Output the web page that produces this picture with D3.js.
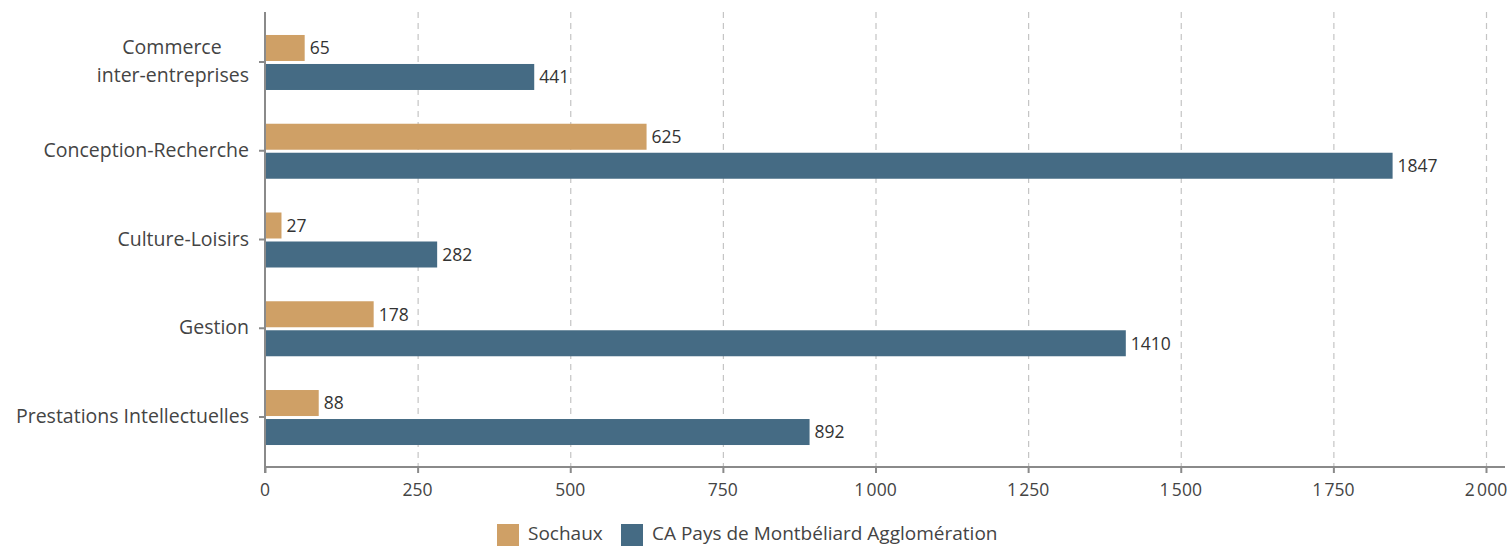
<!DOCTYPE html>
<html>
<head>
<meta charset="utf-8">
<script src="https://cdn.jsdelivr.net/npm/d3@7"></script>
<style>
  html, body { margin: 0; padding: 0; background: #fff; }
  svg { display: block; font-family: "Open Sans", "Noto Sans", sans-serif; }
</style>
</head>
<body>
<svg id="chart" width="1510" height="547"></svg>
<script>
// Emplois par fonction : Sochaux vs CA Pays de Montbéliard Agglomération
const categories = [
  ["Commerce", "inter-entreprises"],
  ["Conception-Recherche"],
  ["Culture-Loisirs"],
  ["Gestion"],
  ["Prestations Intellectuelles"]
];
const seriesNames = ["Sochaux", "CA Pays de Montbéliard Agglomération"];
const sochaux = [65, 625, 27, 178, 88];
const capma = [441, 1847, 282, 1410, 892];
const xTicks = [0, 250, 500, 750, 1000, 1250, 1500, 1750, 2000];
const colors = ["#cfa066", "#456b84"];

const svg = d3.select("#chart");
const plotLeft = 265, plotRight = 1486, plotTop = 12, plotBottom = 467;

const fr = d3.formatLocale({ decimal: ",", thousands: "\u202f", grouping: [3], currency: ["", " €"] });
const fmt = fr.format(",d");

const x = d3.scaleLinear().domain([0, 2000]).range([plotLeft, plotRight]);
const y = d3.scaleBand().domain(d3.range(categories.length)).range([17.6, 461.4]);

// grid lines
svg.append("g")
  .selectAll("line")
  .data(xTicks.slice(1))
  .join("line")
  .attr("x1", d => x(d) + 0.5).attr("x2", d => x(d) + 0.5)
  .attr("y1", plotTop).attr("y2", plotBottom)
  .attr("stroke", "#c4c4c4")
  .attr("stroke-width", 1.2)
  .attr("stroke-dasharray", "6,5");

// bars
const barH = 26;
const series = [sochaux, capma];
series.forEach((vals, si) => {
  const g = svg.append("g");
  const offset = si === 0 ? -27 : 2;
  g.selectAll("rect")
    .data(vals)
    .join("rect")
    .attr("x", x(0))
    .attr("y", (d, i) => y(i) + y.bandwidth() / 2 + offset)
    .attr("width", d => x(d) - x(0))
    .attr("height", barH)
    .attr("fill", colors[si]);
  g.selectAll("text")
    .data(vals)
    .join("text")
    .attr("x", d => x(d) + 5)
    .attr("y", (d, i) => y(i) + y.bandwidth() / 2 + offset + barH / 2)
    .attr("dy", "0.36em")
    .attr("font-size", 17.5)
    .attr("fill", "#333")
    .text(d => d);
});

// x axis
const xAxis = svg.append("g");
xAxis.append("line")
  .attr("x1", plotLeft - 1).attr("x2", 1505)
  .attr("y1", plotBottom).attr("y2", plotBottom)
  .attr("stroke", "#8a8a8a").attr("stroke-width", 2);
xAxis.selectAll("line.tick")
  .data(xTicks)
  .join("line")
  .attr("class", "tick")
  .attr("x1", d => x(d) + 0.5).attr("x2", d => x(d) + 0.5)
  .attr("y1", plotBottom).attr("y2", plotBottom + 6)
  .attr("stroke", "#8a8a8a").attr("stroke-width", 2);
xAxis.selectAll("text")
  .data(xTicks)
  .join("text")
  .attr("x", d => x(d))
  .attr("y", plotBottom + 29)
  .attr("text-anchor", "middle")
  .attr("font-size", 17.5)
  .attr("fill", "#444")
  .text(d => fmt(d));

// y axis
const yAxis = svg.append("g");
yAxis.append("line")
  .attr("x1", plotLeft).attr("x2", plotLeft)
  .attr("y1", plotTop).attr("y2", plotBottom + 6)
  .attr("stroke", "#8a8a8a").attr("stroke-width", 2);
yAxis.selectAll("line.tick")
  .data(categories)
  .join("line")
  .attr("class", "tick")
  .attr("x1", plotLeft - 6).attr("x2", plotLeft)
  .attr("y1", (d, i) => y(i) + y.bandwidth() / 2)
  .attr("y2", (d, i) => y(i) + y.bandwidth() / 2)
  .attr("stroke", "#8a8a8a").attr("stroke-width", 2);
yAxis.selectAll("text")
  .data(categories)
  .join("text")
  .attr("font-size", 19.5)
  .attr("fill", "#444")
  .each(function (lines, i) {
    const cy = y(i) + y.bandwidth() / 2;
    const lh = 28;
    const t = d3.select(this);
    lines.forEach((ln, k) => {
      const ty = cy - 1 + (k - (lines.length - 1) / 2) * lh;
      const centred = lines.length > 1 && k === 0;
      t.append("tspan")
        .attr("x", centred ? 172 : 249)
        .attr("text-anchor", centred ? "middle" : "end")
        .attr("y", ty)
        .attr("dy", "0.36em")
        .text(ln);
    });
  });

// legend
const legend = svg.append("g");
const legendItems = [
  { name: seriesNames[0], color: colors[0], x: 497 },
  { name: seriesNames[1], color: colors[1], x: 621 }
];
legendItems.forEach(it => {
  legend.append("rect")
    .attr("x", it.x).attr("y", 524)
    .attr("width", 22).attr("height", 22)
    .attr("fill", it.color);
  legend.append("text")
    .attr("x", it.x + 31).attr("y", 533)
    .attr("dy", "0.36em")
    .attr("font-size", 19)
    .attr("fill", "#444")
    .text(it.name);
});
</script>
</body>
</html>
